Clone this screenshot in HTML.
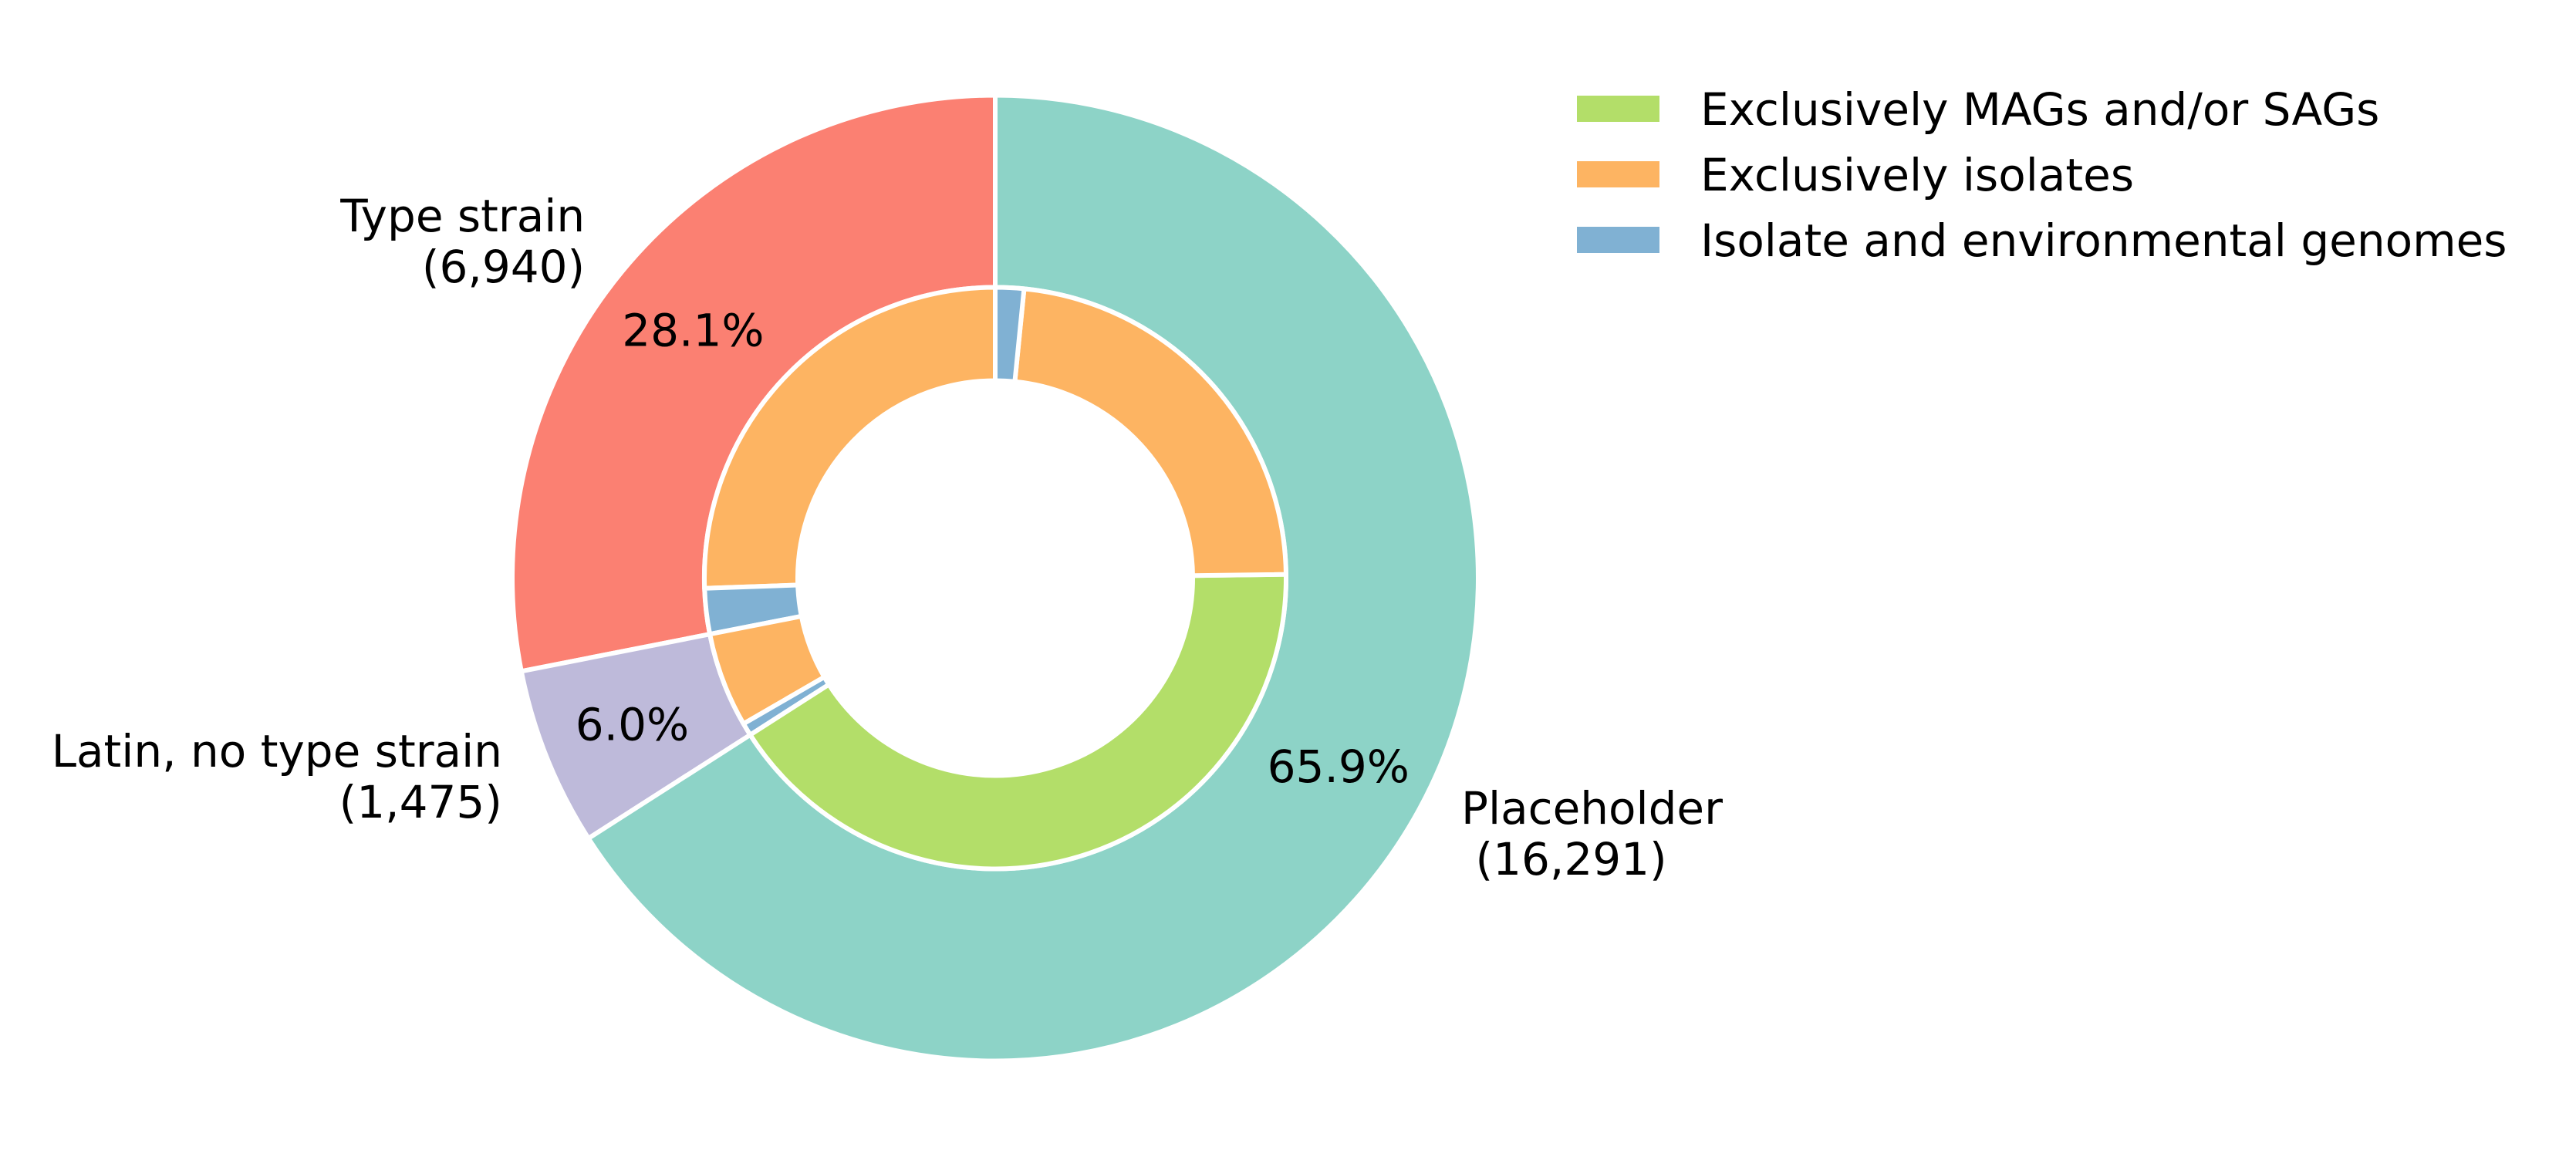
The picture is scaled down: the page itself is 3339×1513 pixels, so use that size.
<!DOCTYPE html>
<html><head><meta charset="utf-8"><style>
html,body{margin:0;padding:0;background:#fff;}
svg{display:block;font-family:"DejaVu Sans","Liberation Sans",sans-serif;}
</style></head><body>
<svg id="chart" width="3339" height="1513" viewBox="0 0 3339 1513" xmlns="http://www.w3.org/2000/svg">
<g id="outer"></g>
<g id="inner"></g>
<g id="labels"></g>
<g id="legend"></g>
</svg>
<script>
const outerCategories = ["Type strain", "Latin, no type strain", "Placeholder"];
const outerValues = [6940, 1475, 16291];
const outerColors = ["#fb8072", "#bebada", "#8dd3c7"];
const innerGroups = ["Type strain", "Type strain", "Latin, no type strain", "Latin, no type strain", "Placeholder", "Placeholder", "Placeholder"];
const innerKinds = ["iso", "env", "iso", "env", "mag", "iso", "env"];
const innerValues = [6315, 625, 1300, 175, 10165, 5735, 391];
const legendLabels = ["Exclusively MAGs and/or SAGs", "Exclusively isolates", "Isolate and environmental genomes"];
const legendKinds = ["mag", "iso", "env"];

const kindColor = {mag:"#b3de69", iso:"#fdb462", env:"#80b1d3"};
const NS = "http://www.w3.org/2000/svg";
const cx = 1290, cy = 749.5, R1 = 626, R2 = 377, R3 = 256;
const FS = 58;
function pt(r, a){ const t = a*Math.PI/180; return [cx + r*Math.cos(t), cy - r*Math.sin(t)]; }
function wedge(ro, ri, a0, a1){
  const large = (a1-a0) > 180 ? 1 : 0;
  const p0 = pt(ro,a0), p1 = pt(ro,a1), q1 = pt(ri,a1), q0 = pt(ri,a0);
  return `M${p0}A${ro},${ro} 0 ${large} 0 ${p1}L${q1}A${ri},${ri} 0 ${large} 1 ${q0}Z`;
}
function mk(tag, attrs, parent){ const e = document.createElementNS(NS, tag); for (const k in attrs) e.setAttribute(k, attrs[k]); parent.appendChild(e); return e; }

const total = outerValues.reduce((a,b)=>a+b,0);
let ang = 90;
const outerG = document.getElementById('outer');
const labelsG = document.getElementById('labels');
outerValues.forEach((v,i)=>{
  const span = v/total*360;
  const p = mk('path', {d: wedge(R1, R2, ang, ang+span), fill: outerColors[i], stroke:'#fff', 'stroke-width':6, 'stroke-linejoin':'round'}, outerG);
  
  
  const mid = ang + span/2;
  const [lx, ly] = pt(R1*1.1, mid);
  const right = Math.cos(mid*Math.PI/180) < 0;
  const t = mk('text', {x: lx, y: ly, 'font-size': FS, fill:'#000', 'text-anchor': right ? 'end' : 'start'}, labelsG);
  
  
  const t1 = mk('tspan', {x: lx, dy: -12}, t); t1.textContent = outerCategories[i];
  const t2 = mk('tspan', {x: lx, dy: 66}, t); t2.textContent = (right ? '' : ' ') + '(' + v.toLocaleString('en-US') + ')';
  const [px, py] = pt(R1*0.81, mid);
  const pc = mk('text', {x: px, y: py+21, 'font-size': FS, fill:'#000', 'text-anchor':'middle'}, labelsG);
  
  
  pc.textContent = (v/total*100).toFixed(1) + '%';
  ang += span;
});
const innerTotal = innerValues.reduce((a,b)=>a+b,0);
ang = 90;
const innerG = document.getElementById('inner');
innerValues.forEach((v,i)=>{
  const span = v/innerTotal*360;
  const p = mk('path', {d: wedge(R2, R3, ang, ang+span), fill: kindColor[innerKinds[i]], stroke:'#fff', 'stroke-width':6, 'stroke-linejoin':'round'}, innerG);
  
  
  ang += span;
});
const legG = document.getElementById('legend');
legendLabels.forEach((l,i)=>{
  const y = 141 + i*85;
  const r = mk('rect', {x:2044, y:y-17, width:107, height:34, fill: kindColor[legendKinds[i]]}, legG);
  
  
  const t = mk('text', {x:2204, y:y+21, 'font-size':FS, fill:'#000'}, legG);
  
  
  t.textContent = l;
});
</script>
</body></html>
